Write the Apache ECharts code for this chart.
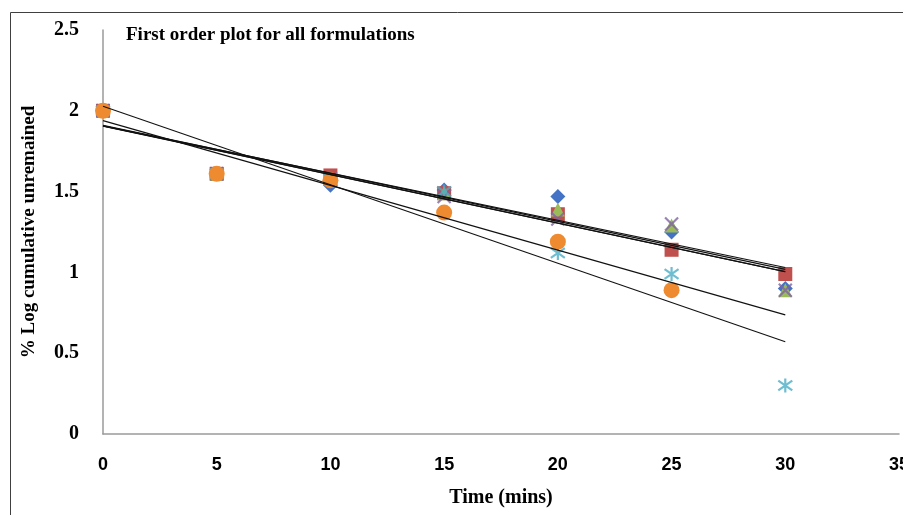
<!DOCTYPE html>
<html>
<head>
<meta charset="utf-8">
<script src="https://cdn.jsdelivr.net/npm/echarts@6/dist/echarts.min.js"></script>
<style>
  html, body { margin: 0; padding: 0; background: #fff; }
  #main { width: 903px; height: 515px; }
</style>
</head>
<body>
<div id="main"></div>
<script>
// time points (mins)
var times = [0, 5, 10, 15, 20, 25, 30];

// % log cumulative unremained, one array per formulation
var blueVals   = [2.00, 1.61, 1.54, 1.51, 1.47, 1.25, 0.90];
var redVals    = [2.00, 1.61, 1.60, 1.49, 1.36, 1.14, 0.99];
var greenVals  = [2.00, 1.61, 1.58, 1.49, 1.39, 1.29, 0.89];
var purpleVals = [2.00, 1.61, 1.58, 1.47, 1.33, 1.30, 0.89];
var cyanVals   = [2.00, 1.61, 1.58, 1.50, 1.12, 0.99, 0.30];
var orangeVals = [2.00, 1.61, 1.57, 1.37, 1.19, 0.89, null];

var xTicks = [0, 5, 10, 15, 20, 25, 30, 35];
var yTicks = [0, 0.5, 1, 1.5, 2, 2.5];

var xPath = 'path://M0 0 L10 10 M10 0 L0 10';
var starPath = 'path://M5 0 L5 10 M0 1.5 L10 8.5 M10 1.5 L0 8.5';

var seriesDefs = [
  { vals: blueVals,   color: '#4472C4', symbol: 'diamond',  size: 15 },
  { vals: redVals,    color: '#C0504D', symbol: 'rect',     size: 14 },
  { vals: greenVals,  color: '#9BBB59', symbol: 'triangle', size: 14 },
  { vals: purpleVals, color: '#8064A2', symbol: xPath,      size: 13, stroke: true },
  { vals: cyanVals,   color: '#4BACC6', symbol: starPath,   size: 14, stroke: true },
  { vals: orangeVals, color: '#EE8A30', symbol: 'circle',   size: 16 }
];

// linear least squares trendline (same as Excel's)
function fitLine(xs, ys) {
  var px = [], py = [];
  for (var i = 0; i < xs.length; i++) {
    if (ys[i] != null) { px.push(xs[i]); py.push(ys[i]); }
  }
  var n = px.length, mx = 0, my = 0;
  for (var j = 0; j < n; j++) { mx += px[j]; my += py[j]; }
  mx /= n; my /= n;
  var sxy = 0, sxx = 0;
  for (var k = 0; k < n; k++) {
    sxy += (px[k] - mx) * (py[k] - my);
    sxx += (px[k] - mx) * (px[k] - mx);
  }
  var slope = sxy / sxx;
  return { slope: slope, icpt: my - slope * mx };
}

var series = [];
seriesDefs.forEach(function (d) {
  var pts = [];
  for (var i = 0; i < times.length; i++) {
    if (d.vals[i] != null) pts.push([times[i], d.vals[i]]);
  }
  series.push({
    type: 'scatter',
    data: pts,
    symbol: d.symbol,
    symbolSize: d.size,
    z: 2,
    itemStyle: d.stroke
      ? { color: 'transparent', borderColor: d.color, borderWidth: 2.2 }
      : { color: d.color, opacity: 1 }
  });
});

// trendlines
var t0 = times[0], t1 = times[times.length - 1];
seriesDefs.forEach(function (d) {
  var f = fitLine(times, d.vals);
  series.push({
    type: 'line',
    data: [[t0, f.icpt + f.slope * t0], [t1, f.icpt + f.slope * t1]],
    showSymbol: false,
    silent: true,
    z: 5,
    lineStyle: { color: '#111', width: 1.1 }
  });
});

var chart = echarts.init(document.getElementById('main'));
var serif = 'Liberation Serif, Times New Roman, serif';

chart.setOption({
  backgroundColor: '#ffffff',
  animation: false,
  graphic: [{
    type: 'rect',
    left: 8, top: 10,
    shape: { width: 1000, height: 1000 },
    style: { fill: 'none', stroke: '#404040', lineWidth: 1 },
    silent: true
  }],
  title: {
    text: 'First order plot for all formulations',
    left: 121, top: 21,
    textStyle: { fontFamily: serif, fontWeight: 'bold', fontSize: 19, color: '#000' }
  },
  grid: { left: 103, right: 4, top: 30, bottom: 81, outerBoundsMode: 'none' },
  xAxis: {
    type: 'value',
    min: xTicks[0], max: xTicks[xTicks.length - 1], interval: 5,
    name: 'Time (mins)',
    nameLocation: 'middle',
    nameGap: 54,
    nameTextStyle: { fontFamily: serif, fontWeight: 'bold', fontSize: 20, color: '#000' },
    axisLine: { show: true, lineStyle: { color: '#9a9a9a', width: 1.5 } },
    axisTick: { show: false },
    splitLine: { show: false },
    axisLabel: { margin: 22, color: '#000', fontWeight: 'bold', fontSize: 18, fontFamily: 'Liberation Sans, Arial, sans-serif' }
  },
  yAxis: {
    type: 'value',
    min: yTicks[0], max: yTicks[yTicks.length - 1], interval: 0.5,
    name: '% Log cumulative unremained',
    nameLocation: 'middle',
    nameGap: 64,
    nameRotate: 90,
    nameTextStyle: { fontFamily: serif, fontWeight: 'bold', fontSize: 19, color: '#000' },
    axisLine: { show: true, lineStyle: { color: '#9a9a9a', width: 1.5 } },
    axisTick: { show: false },
    splitLine: { show: false },
    axisLabel: { margin: 24, color: '#000', fontWeight: 'bold', fontSize: 20, fontFamily: serif }
  },
  series: series
});
</script>
</body>
</html>
